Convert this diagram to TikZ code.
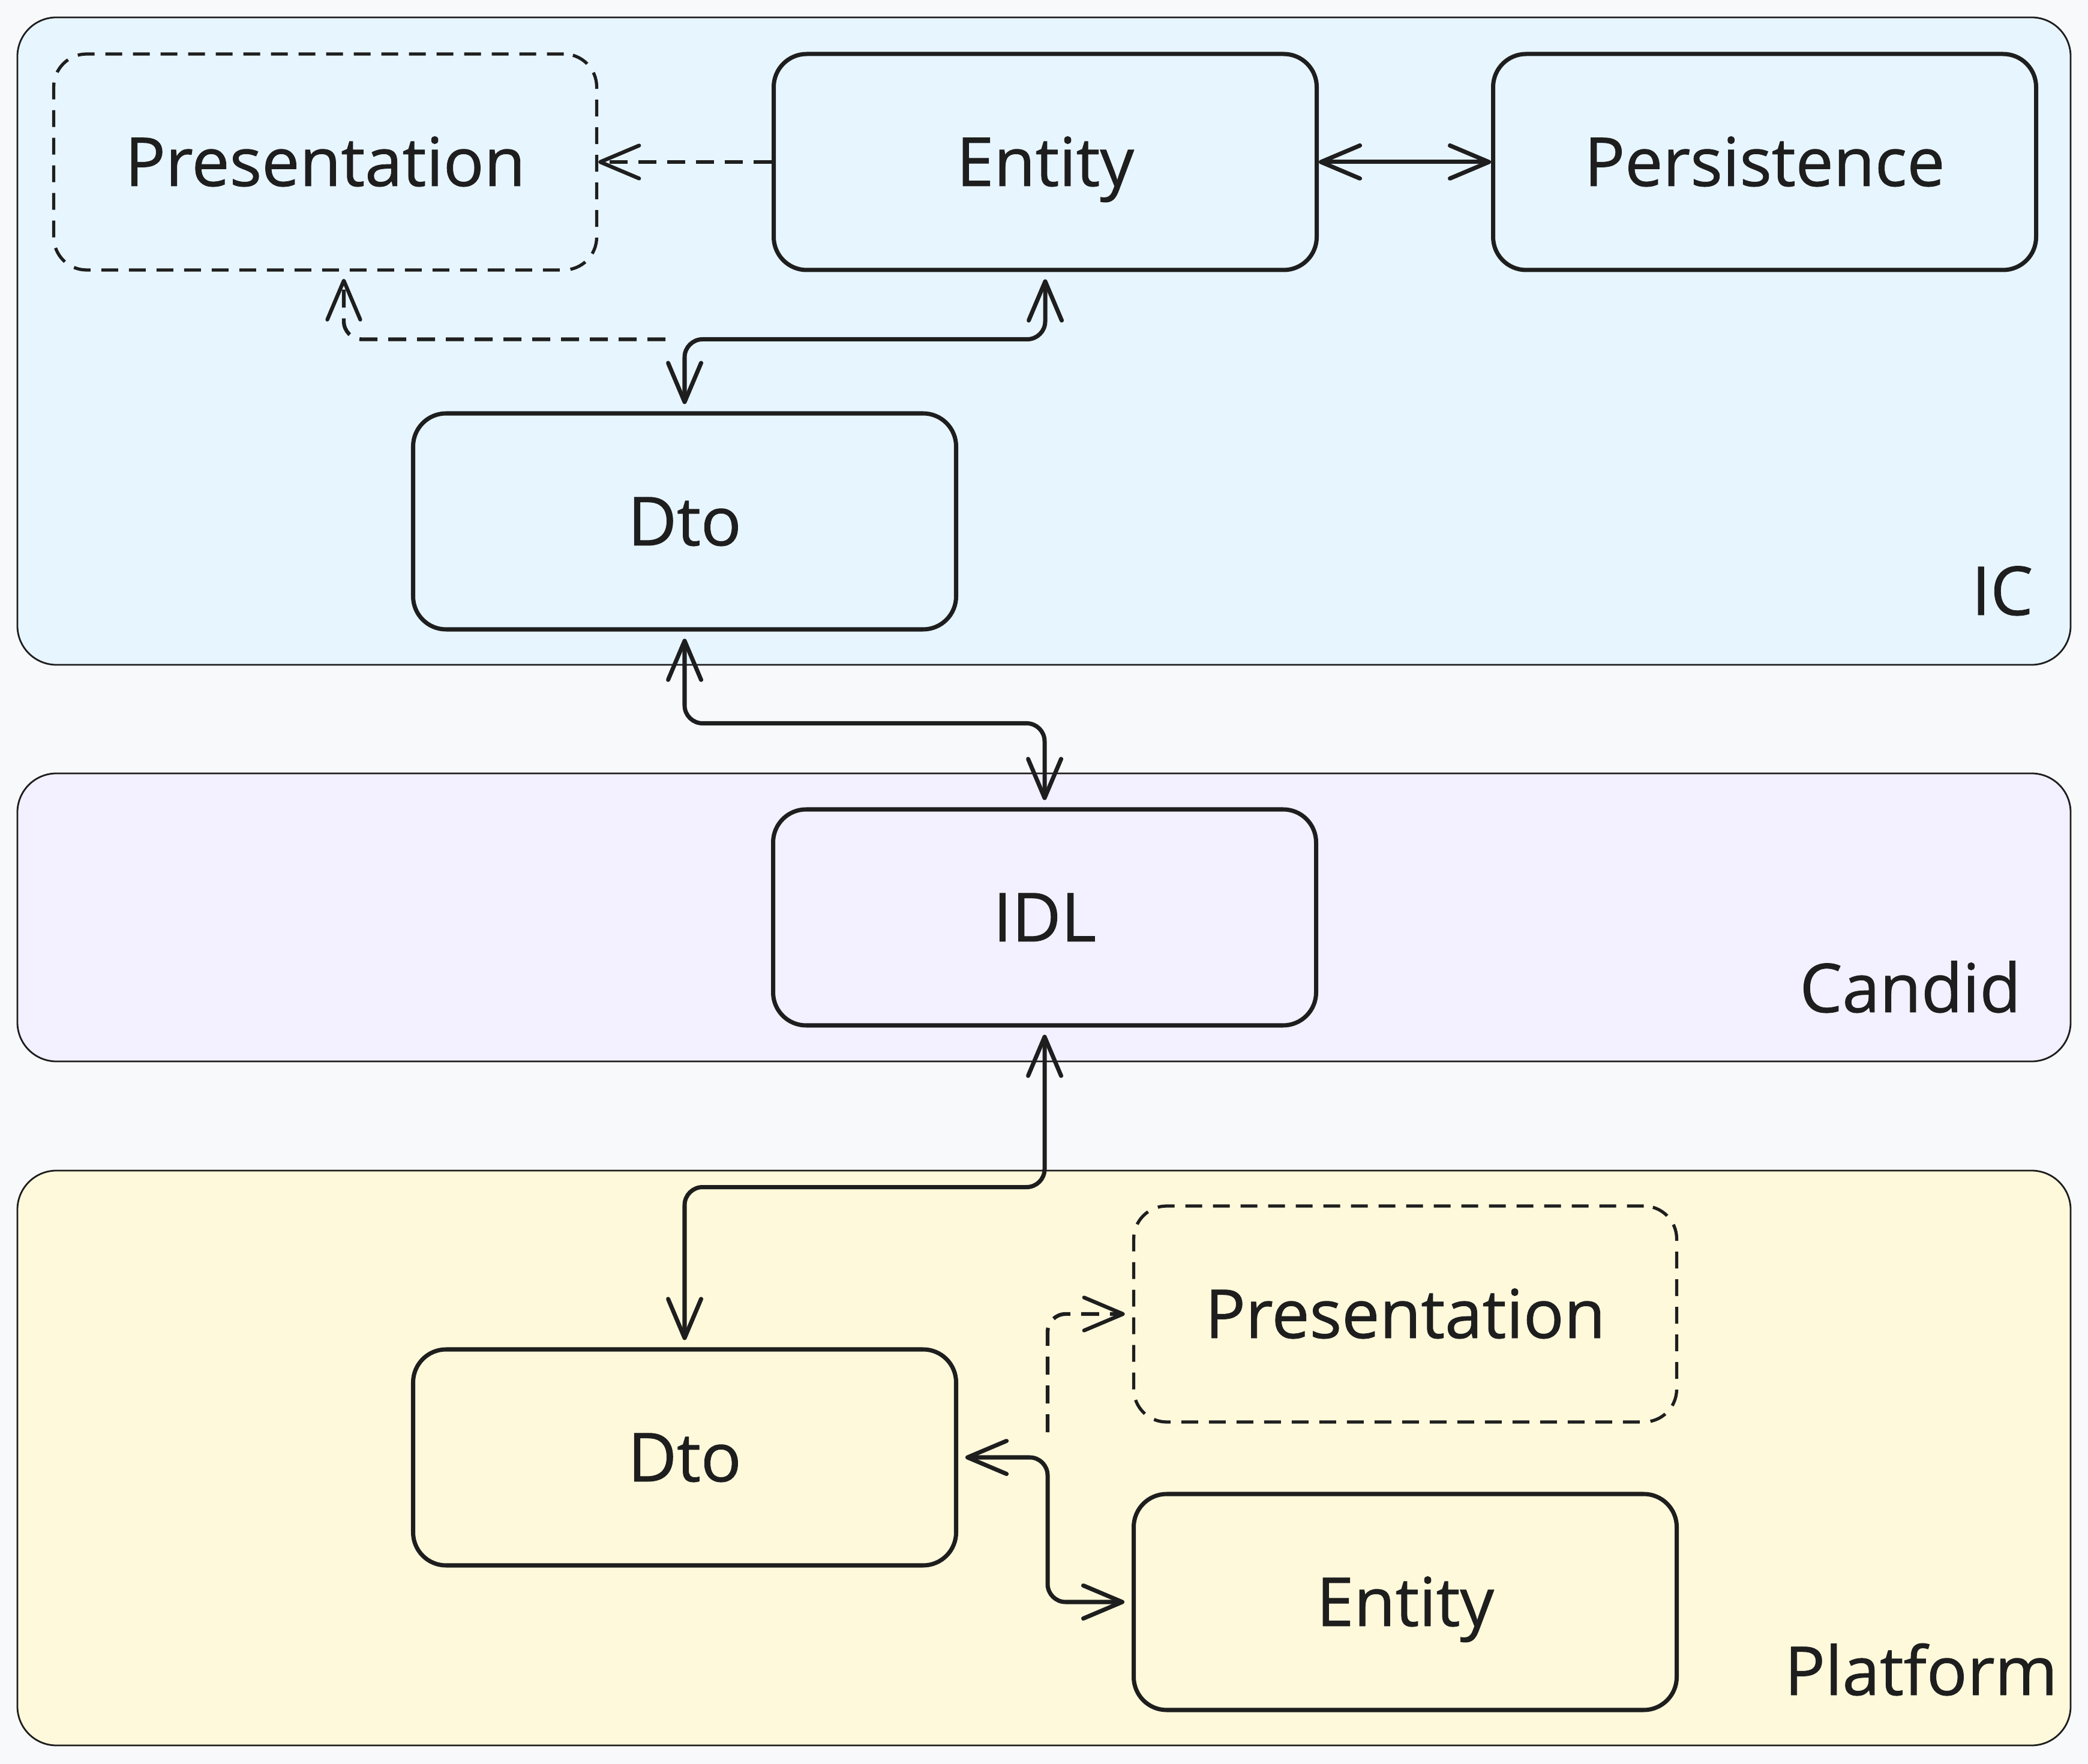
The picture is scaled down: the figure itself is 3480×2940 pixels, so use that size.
\documentclass[tikz,border=0pt]{standalone}
\usepackage{fontspec}
\setmainfont{Open Sans}
\newfontfamily\hand{Open Sans}[FakeBold=0.8]
\usetikzlibrary{arrows.meta}
\definecolor{bgc}{HTML}{F8F9FA}
\definecolor{icfill}{HTML}{E7F5FF}
\definecolor{candidfill}{HTML}{F3F0FF}
\definecolor{platfill}{HTML}{FFF9DB}
\definecolor{ink}{HTML}{1E1E1E}
\tikzset{
  panel/.style={draw=ink, line width=0.8pt, rounded corners=6.5mm},
  box/.style={draw=ink, line width=2pt, rounded corners=5.5mm, minimum width=90.5mm, minimum height=36mm, inner sep=0pt, text=ink, font=\hand\fontsize{32}{38}\selectfont, text height=8mm, text depth=0pt},
  dbox/.style={box, line width=1.5pt, dash pattern=on 2.8mm off 1.8mm},
  conn/.style={draw=ink, line width=2pt, rounded corners=3mm, line cap=round, shorten >=1.2mm, shorten <=1.2mm},
  dconn/.style={conn, line width=1.8pt, dash pattern=on 3mm off 1.8mm, line cap=butt},
  lbl/.style={text=ink, inner sep=0pt, font=\hand\fontsize{32}{38}\selectfont},
  >={Straight Barb[length=6.5mm,width=5.5mm,round]}
}
\begin{document}
\begin{tikzpicture}[x=0.1mm,y=-0.1mm]
\useasboundingbox (0,0) rectangle (3480,2940);
\fill[bgc] (0,0) rectangle (3480,2940);
% panels
\draw[panel, fill=icfill] (29,29) rectangle (3451,1108);
\draw[panel, fill=candidfill] (29,1289) rectangle (3451,1769);
\draw[panel, fill=platfill] (29,1951) rectangle (3451,2909);
% panel labels
\node[lbl, anchor=base east] (icl) at (3389,1025) {IC};
\node[lbl, anchor=base east] (candl) at (3369,1687) {Candid};
\node[lbl, anchor=base east] (platl) at (3430,2825) {Platform};
% nodes
\node[dbox] (PresIC) at (542,270) {Presentation};
\node[box] (EntIC) at (1742,270) {Entity};
\node[box] (Pers) at (2941,270) {Persistence};
\node[box] (DtoIC) at (1141,869) {Dto};
\node[box] (IDL) at (1741,1529) {IDL};
\node[box] (DtoP) at (1141,2429) {Dto};
\node[dbox] (PresP) at (2342,2190) {Presentation};
\node[box] (EntP) at (2342,2670) {Entity};
% connectors
\draw[dconn, ->, shorten >=0pt, shorten <=0pt] (EntIC.west) -- (PresIC.east);
\draw[conn, <->, shorten >=0pt, shorten <=0pt] (EntIC.east) -- (Pers.west);
\draw[dconn, ->] (DtoIC.north) ++(-20,-120) -| ([xshift=3.1mm]PresIC.south);
\draw[conn, <->] (DtoIC.north) -- ++(0,-120) -| (EntIC.south);
\draw[conn, <->] (DtoIC.south) -- ++(0,153) -| (IDL.north);
\draw[conn, <->] (IDL.south) -- ++(0,266) -| (DtoP.north);
\draw[dconn, ->] (DtoP.east) ++(149,-30) |- (PresP.west);
\draw[conn, <->] (DtoP.east) -- ++(149,0) |- (EntP.west);
\end{tikzpicture}
\end{document}
